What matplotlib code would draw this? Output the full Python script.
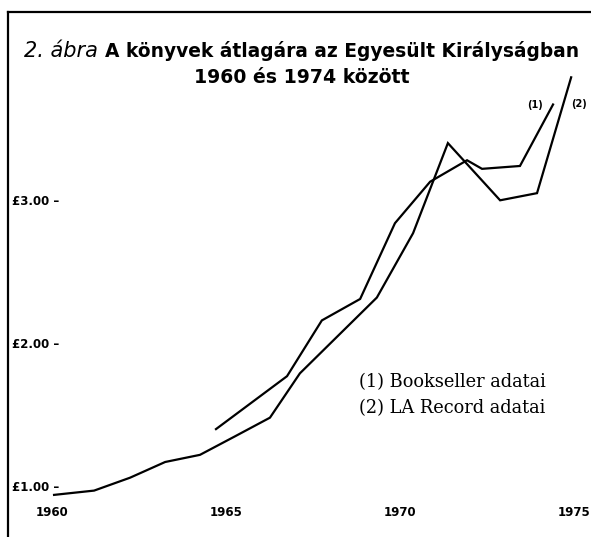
import matplotlib.pyplot as plt
from matplotlib.lines import Line2D

# (2) LA Record: year positions and average price in pounds
la_years = [1960.06, 1961.21, 1962.24, 1963.25, 1964.25, 1965.26, 1966.26,
            1967.12, 1969.33, 1970.37, 1971.37, 1972.87, 1973.93, 1974.91]
la_prices = [0.94, 0.97, 1.06, 1.17, 1.22, 1.35, 1.48,
             1.79, 2.32, 2.77, 3.40, 3.00, 3.05, 3.86]

# (1) Bookseller
bs_years = [1964.71, 1966.75, 1967.75, 1968.85, 1969.85, 1970.86,
            1971.92, 1972.35, 1973.44, 1974.39]
bs_prices = [1.40, 1.77, 2.16, 2.31, 2.84, 3.13,
             3.28, 3.22, 3.24, 3.67]

x_ticks = [1960, 1965, 1970, 1975]
y_ticks = [1, 2, 3]
y_labels = ['£1.00 –', '£2.00 –', '£3.00 –']

fig = plt.figure(figsize=(5.91, 5.37), dpi=100)
ax = fig.add_axes([0, 0, 1, 1])
ax.set_xlim(1958.507, 1975.48)
ax.set_ylim(0.6455, 4.4007)
for s in ax.spines.values():
    s.set_visible(False)

ax.plot(la_years, la_prices, color='black', lw=1.6, solid_joinstyle='miter')
ax.plot(bs_years, bs_prices, color='black', lw=1.6, solid_joinstyle='miter')

ax.annotate('(1)', (bs_years[-1], bs_prices[-1]), xytext=(-18, -1),
            textcoords='offset pixels', ha='center', va='center',
            fontsize=7, fontweight='bold', family='DejaVu Sans')
ax.annotate('(2)', (la_years[-1], la_prices[-1]), xytext=(8, -27),
            textcoords='offset pixels', ha='center', va='center',
            fontsize=7, fontweight='bold', family='DejaVu Sans')

# tick labels sit inside the frame
ax.set_xticks(x_ticks)
ax.set_xticklabels([str(t) for t in x_ticks])
ax.set_yticks(y_ticks)
ax.set_yticklabels(y_labels)
ax.tick_params(axis='x', length=0, pad=-18)
ax.tick_params(axis='y', length=0, pad=-9)
for lab in ax.get_xticklabels():
    lab.set_va('center')
    lab.set_fontsize(8.5)
    lab.set_fontweight('bold')
    lab.set_family('DejaVu Sans')
for lab in ax.get_yticklabels():
    lab.set_ha('left')
    lab.set_fontsize(8.5)
    lab.set_fontweight('bold')
    lab.set_family('DejaVu Sans')

# title
W, H = 591, 537
fig.text(24 / W, 1 - 57 / H, '2. ábra', fontsize=15, style='italic',
         family='DejaVu Sans', va='baseline', ha='left')
fig.text(579 / W, 1 - 57 / H, 'A könyvek átlagára az Egyesült Királyságban',
         fontsize=13.4, fontweight='bold', family='DejaVu Sans',
         va='baseline', ha='right')
fig.text(302 / W, 1 - 83 / H, '1960 és 1974 között', fontsize=13.6,
         fontweight='bold', family='DejaVu Sans', va='baseline', ha='center')

# legend text
ax.text(359 / W, 1 - 382 / H, '(1) Bookseller adatai', transform=ax.transAxes,
        fontsize=12.8, family='DejaVu Serif', va='center', ha='left')
ax.text(359 / W, 1 - 408 / H, '(2) LA Record adatai', transform=ax.transAxes,
        fontsize=12.8, family='DejaVu Serif', va='center', ha='left')

# frame lines (left and top)
fig.add_artist(Line2D([8 / W, 8 / W], [0, 1 - 12 / H], color='black', lw=1.6))
fig.add_artist(Line2D([8 / W, 1], [1 - 12 / H, 1 - 12 / H], color='black', lw=1.6))

fig.savefig('out.png', dpi=100)
